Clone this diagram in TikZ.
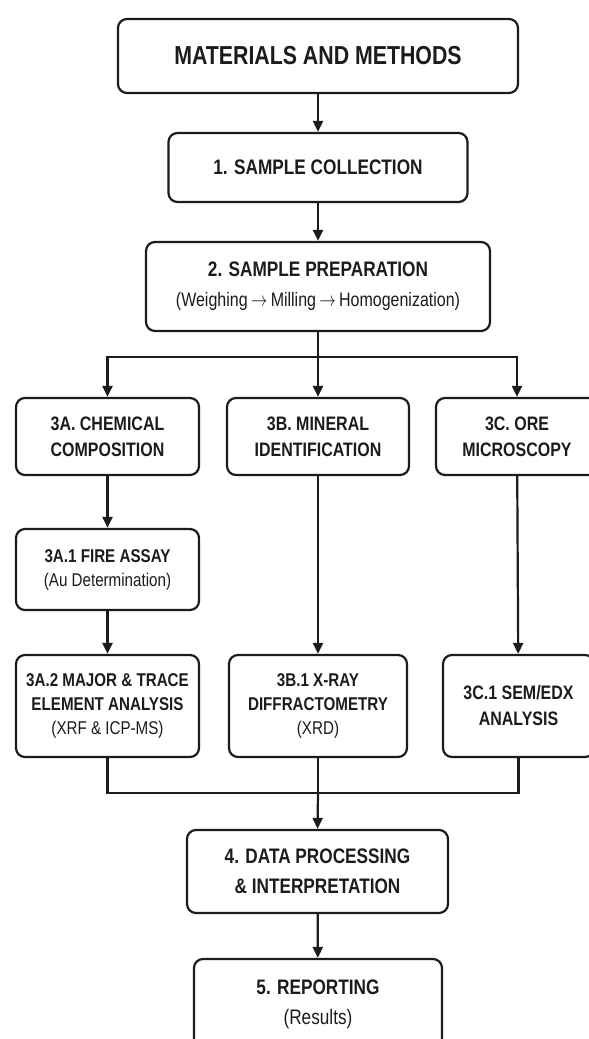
\documentclass[tikz,border=0pt]{standalone}
\usepackage{fontspec}
\usepackage{graphicx}
\setmainfont{Liberation Sans}[FakeStretch=0.82]
\usetikzlibrary{arrows.meta}
\definecolor{ink}{HTML}{1C1C1C}
\tikzset{
  box/.style={draw=ink, line width=2.2pt, rounded corners=9pt, align=center, inner sep=0pt, text=ink, fill=white},
  conn/.style={draw=ink, line width=2.2pt},
  arr/.style={conn, -{Triangle[length=11pt,width=10pt]}},
  fA/.style={font=\fontsize{26}{30}\selectfont\bfseries},
  fB/.style={font=\fontsize{21}{30}\selectfont},
  fC/.style={font=\fontsize{19.5}{26}\selectfont\bfseries},
  fD/.style={font=\fontsize{18.5}{24}\selectfont}
}
\newcommand{\rarr}{\,\scalebox{0.8}[1]{$\rightarrow$}\,}
\begin{document}
\begin{tikzpicture}[x=1pt,y=-1pt]
\useasboundingbox (0,0) rectangle (589,1039);
\fill[white] (0,0) rectangle (589,1039);
\clip (0,0) rectangle (589,1039);

\node[box, fA, minimum width=400pt, minimum height=74pt] (title) at (318,56) {MATERIALS AND METHODS};
\node[box, fB, minimum width=299pt, minimum height=69pt] (s1) at (318,167.5) {\bfseries 1. SAMPLE COLLECTION};
\node[box, fB, minimum width=344pt, minimum height=89pt] (s2) at (318,286.5) {\bfseries 2. SAMPLE PREPARATION\\ \fontsize{19.5}{30}\selectfont (Weighing\rarr Milling\rarr Homogenization)};

\node[box, fC, minimum width=183pt, minimum height=77pt] (a3) at (107.5,436.5) {\raisebox{-3pt}{3A. CHEMICAL}\\\raisebox{-3pt}{COMPOSITION}};
\node[box, fC, minimum width=182pt, minimum height=77pt] (b3) at (318,436.5) {\raisebox{-3pt}{3B. MINERAL}\\\raisebox{-3pt}{IDENTIFICATION}};
\node[box, fC, minimum width=162pt, minimum height=77pt] (c3) at (517,436.5) {\raisebox{-3pt}{3C. ORE}\\\raisebox{-3pt}{MICROSCOPY}};

\node[box, fD, minimum width=183pt, minimum height=81pt] (a31) at (107.5,569.5) {\bfseries 3A.1 FIRE ASSAY\\ (Au Determination)};
\node[box, fD, minimum width=183pt, minimum height=102pt] (a32) at (107.5,706) {\bfseries 3A.2 MAJOR \& TRACE\\ \bfseries ELEMENT ANALYSIS\\ (XRF \& ICP-MS)};
\node[box, fD, minimum width=178pt, minimum height=102pt] (b31) at (318,706) {\bfseries 3B.1 X-RAY\\ \bfseries DIFFRACTOMETRY\\ (XRD)};
\node[box, fC, minimum width=151pt, minimum height=102pt] (c31) at (518.5,706) {3C.1 SEM/EDX\\ANALYSIS};

\node[box, fB, minimum width=261pt, minimum height=83pt] (s4) at (317.5,871.5) {\bfseries 4. DATA PROCESSING\\ \bfseries \& INTERPRETATION};
\node[box, fB, minimum width=248pt, minimum height=91pt] (s5) at (318,1004.5) {\bfseries 5. REPORTING\\ (Results)};

\coordinate (br) at (318,357);
\coordinate (mg) at (318,793);

\draw[arr] (title) -- (s1);
\draw[arr] (s1) -- (s2);
\draw[conn] (s2.south) -- (br);
\draw[arr] (br) -| (a3.north);
\draw[arr] (br) -- (b3.north);
\draw[arr] (br) -| (c3.north);
\draw[arr] (a3) -- (a31);
\draw[arr] (a31) -- (a32);
\draw[arr] (b3) -- (b31);
\draw[arr] (c3) -- (c31);
\draw[conn] (a32.south) |- (mg);
\draw[conn] (c31.south) |- (mg);
\draw[conn] (b31.south) -- (mg);
\draw[arr] (mg) -- (s4.north);
\draw[arr] (s4) -- (s5);
\end{tikzpicture}
\end{document}
